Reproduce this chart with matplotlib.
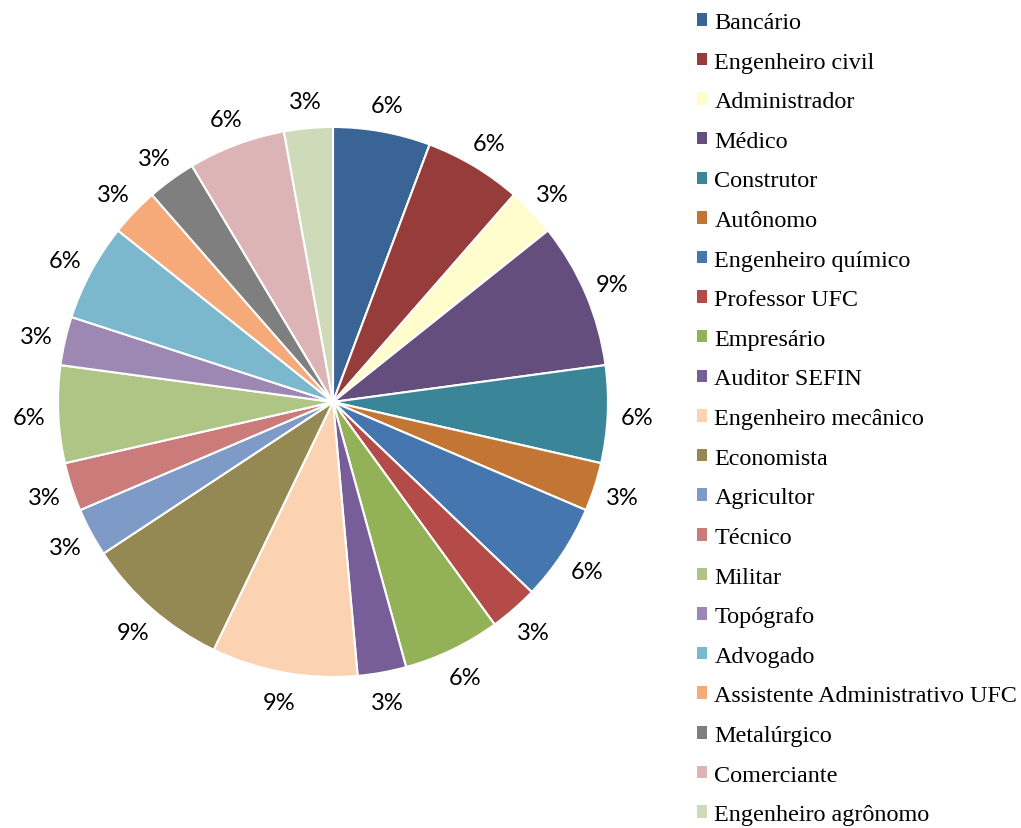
import matplotlib.pyplot as plt

profissoes = ["Bancário", "Engenheiro civil", "Administrador", "Médico", "Construtor",
              "Autônomo", "Engenheiro químico", "Professor UFC", "Empresário",
              "Auditor SEFIN", "Engenheiro mecânico", "Economista", "Agricultor",
              "Técnico", "Militar", "Topógrafo", "Advogado",
              "Assistente Administrativo UFC", "Metalúrgico", "Comerciante",
              "Engenheiro agrônomo"]
quantidade = [2, 2, 1, 3, 2, 1, 2, 1, 2, 1, 3, 3, 1, 1, 2, 1, 2, 1, 1, 2, 1]
cores = ["#3A6496", "#963C3B", "#FFFDCC", "#634E7E", "#3A8597", "#C37533",
         "#4676AF", "#B54B49", "#93B156", "#785E98", "#FBD3B3", "#948952",
         "#7E9AC7", "#CB7B7A", "#AEC585", "#9D87B3", "#7BB8CE", "#F6AA79",
         "#7F7F7F", "#DDB4B5", "#CFDBB8"]

W, H = 1021, 829
fig = plt.figure(figsize=(W / 100, H / 100), dpi=100)
cx, cy, r = 333, 403, 275
ax = fig.add_axes([(cx - r) / W, (H - cy - r) / H, 2 * r / W, 2 * r / H])

wedges, texts, autotexts = ax.pie(
    quantidade, colors=cores, startangle=90, counterclock=False, radius=1,
    autopct=lambda p: f"{p:.0f}%", pctdistance=1.105,
    wedgeprops=dict(edgecolor="white", linewidth=1.5),
    textprops=dict(fontsize=17, family="Lato", color="black"))
for t in autotexts:
    t.set_va("center_baseline")
ax.set_xlim(-1, 1)
ax.set_ylim(-1, 1)
ax.set_aspect("equal")
ax.axis("off")

leg = fig.legend(wedges, profissoes, loc="upper left",
                 bbox_to_anchor=(697 / W, 1 - 13 / H), frameon=False,
                 prop=dict(family="Liberation Serif", size=17.4),
                 handlelength=0.42, handleheight=0.42, handletextpad=0.3,
                 labelspacing=0.77, borderpad=0, borderaxespad=0)
for h in leg.legend_handles:
    h.set_edgecolor("none")

fig.savefig("out.png", dpi=100)
